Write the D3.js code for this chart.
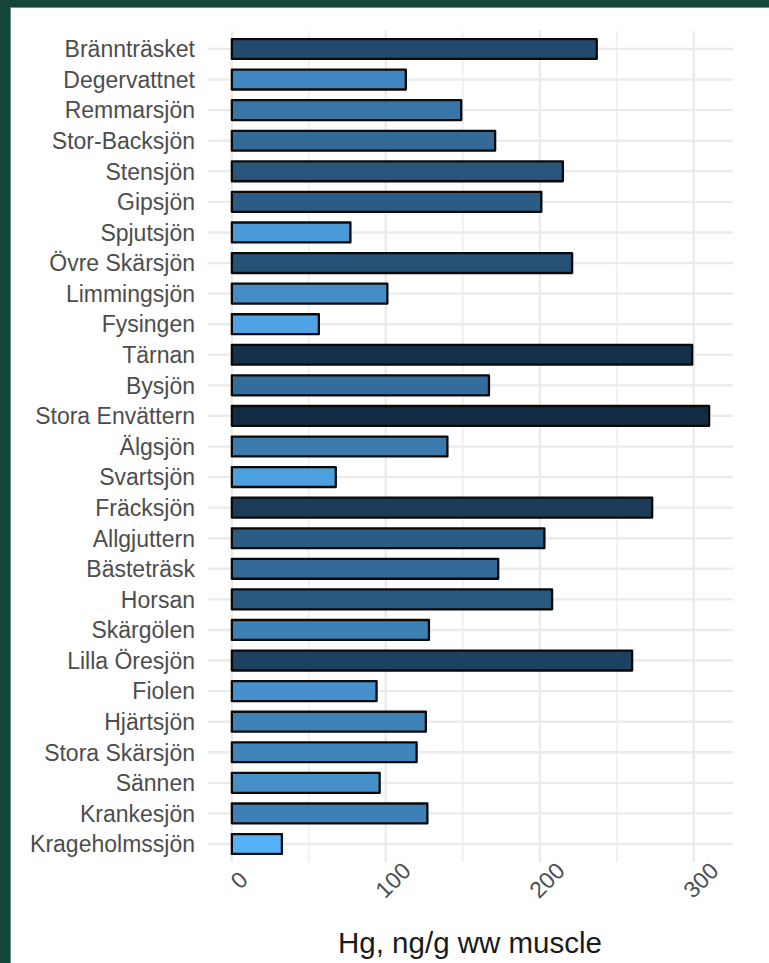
<!DOCTYPE html>
<html>
<head>
<meta charset="utf-8">
<script src="https://cdn.jsdelivr.net/npm/d3@7"></script>
<style>
  html, body { margin: 0; padding: 0; background: #ffffff; }
  svg { display: block; }
</style>
</head>
<body>
<svg id="chart" width="769" height="963"></svg>
<script>
const lakes = ["Brännträsket","Degervattnet","Remmarsjön","Stor-Backsjön","Stensjön","Gipsjön","Spjutsjön","Övre Skärsjön","Limmingsjön","Fysingen","Tärnan","Bysjön","Stora Envättern","Älgsjön","Svartsjön","Fräcksjön","Allgjuttern","Bästeträsk","Horsan","Skärgölen","Lilla Öresjön","Fiolen","Hjärtsjön","Stora Skärsjön","Sännen","Krankesjön","Krageholmssjön"];
const hg = [237,113,149,171,215,201,77,221,101,56.5,299,167,310,140,67.5,273,203,173,208,128,260,94,126,120,96,127,32.5];
const xTicks = [0,100,200,300];
const xMinor = [50,150,250];
const xTitle = "Hg, ng/g ww muscle";

const svg = d3.select("#chart");
const W = 769, H = 963;
svg.append("rect").attr("width", W).attr("height", H).attr("fill", "#ffffff");
// dark green frame (top and left)
svg.append("rect").attr("x", 0).attr("y", 0).attr("width", W).attr("height", 7).attr("fill", "#13453a");
svg.append("rect").attr("x", 0).attr("y", 0).attr("width", 10).attr("height", H).attr("fill", "#13453a");
svg.append("rect").attr("x", 10).attr("y", 7).attr("width", 1).attr("height", H - 7).attr("fill", "#6f8f86");
svg.append("rect").attr("x", 10).attr("y", 7).attr("width", W - 10).attr("height", 1).attr("fill", "#6f8f86");

const panel = { left: 208, right: 733, top: 31, bottom: 862 };
const dmax = d3.max(hg), dmin = 0;
const pad = (dmax - dmin) * 0.05;
const x = d3.scaleLinear().domain([dmin - pad, dmax + pad]).range([panel.left, panel.right]);
const y = d3.scalePoint().domain(lakes).range([49, 844]);
const step = y.step();
const barH = step * 0.65;

const color = d3.scaleLinear()
  .domain([d3.min(hg), d3.max(hg)])
  .range(["#56B1F7", "#132B43"])
  .interpolate(d3.interpolateLab);

const g = svg.append("g");
// minor vertical grid
g.selectAll("line.vminor").data(xMinor).join("line")
  .attr("x1", d => x(d)).attr("x2", d => x(d))
  .attr("y1", panel.top).attr("y2", panel.bottom)
  .attr("stroke", "#f0f0f0").attr("stroke-width", 1.8);
// major vertical grid
g.selectAll("line.vmajor").data(xTicks).join("line")
  .attr("x1", d => x(d)).attr("x2", d => x(d))
  .attr("y1", panel.top).attr("y2", panel.bottom)
  .attr("stroke", "#ebebeb").attr("stroke-width", 2.4);
// horizontal grid
g.selectAll("line.hmajor").data(lakes).join("line")
  .attr("x1", panel.left).attr("x2", panel.right)
  .attr("y1", d => y(d)).attr("y2", d => y(d))
  .attr("stroke", "#ebebeb").attr("stroke-width", 2.4);

// bars
g.selectAll("rect.bar").data(lakes).join("rect")
  .attr("x", x(0))
  .attr("y", d => y(d) - barH / 2)
  .attr("width", (d, i) => x(hg[i]) - x(0))
  .attr("height", barH)
  .attr("fill", (d, i) => color(hg[i]))
  .attr("stroke", "#0a0a0a")
  .attr("stroke-width", 2.3)
  .attr("stroke-linejoin", "round");

const font = "'Liberation Sans', Arial, Helvetica, sans-serif";
// y labels
g.selectAll("text.ylab").data(lakes).join("text")
  .attr("x", 195)
  .attr("y", d => y(d))
  .attr("dy", "0.36em")
  .attr("text-anchor", "end")
  .attr("font-family", font)
  .attr("font-size", 23)
  .attr("fill", "#4d4d4d")
  .text(d => d);

// x tick labels rotated 45
g.selectAll("text.xlab").data(xTicks).join("text")
  .attr("transform", d => `translate(${x(d) + 7},${880}) rotate(-45)`)
  .attr("text-anchor", "middle")
  .attr("dy", "0.36em")
  .attr("font-family", font)
  .attr("font-size", 23)
  .attr("fill", "#4d4d4d")
  .text(d => d);

// axis title
svg.append("text")
  .attr("x", 470)
  .attr("y", 942)
  .attr("dy", "0.36em")
  .attr("text-anchor", "middle")
  .attr("font-family", font)
  .attr("font-size", 29.5)
  .attr("fill", "#1a1a1a")
  .text(xTitle);
</script>
</body>
</html>
